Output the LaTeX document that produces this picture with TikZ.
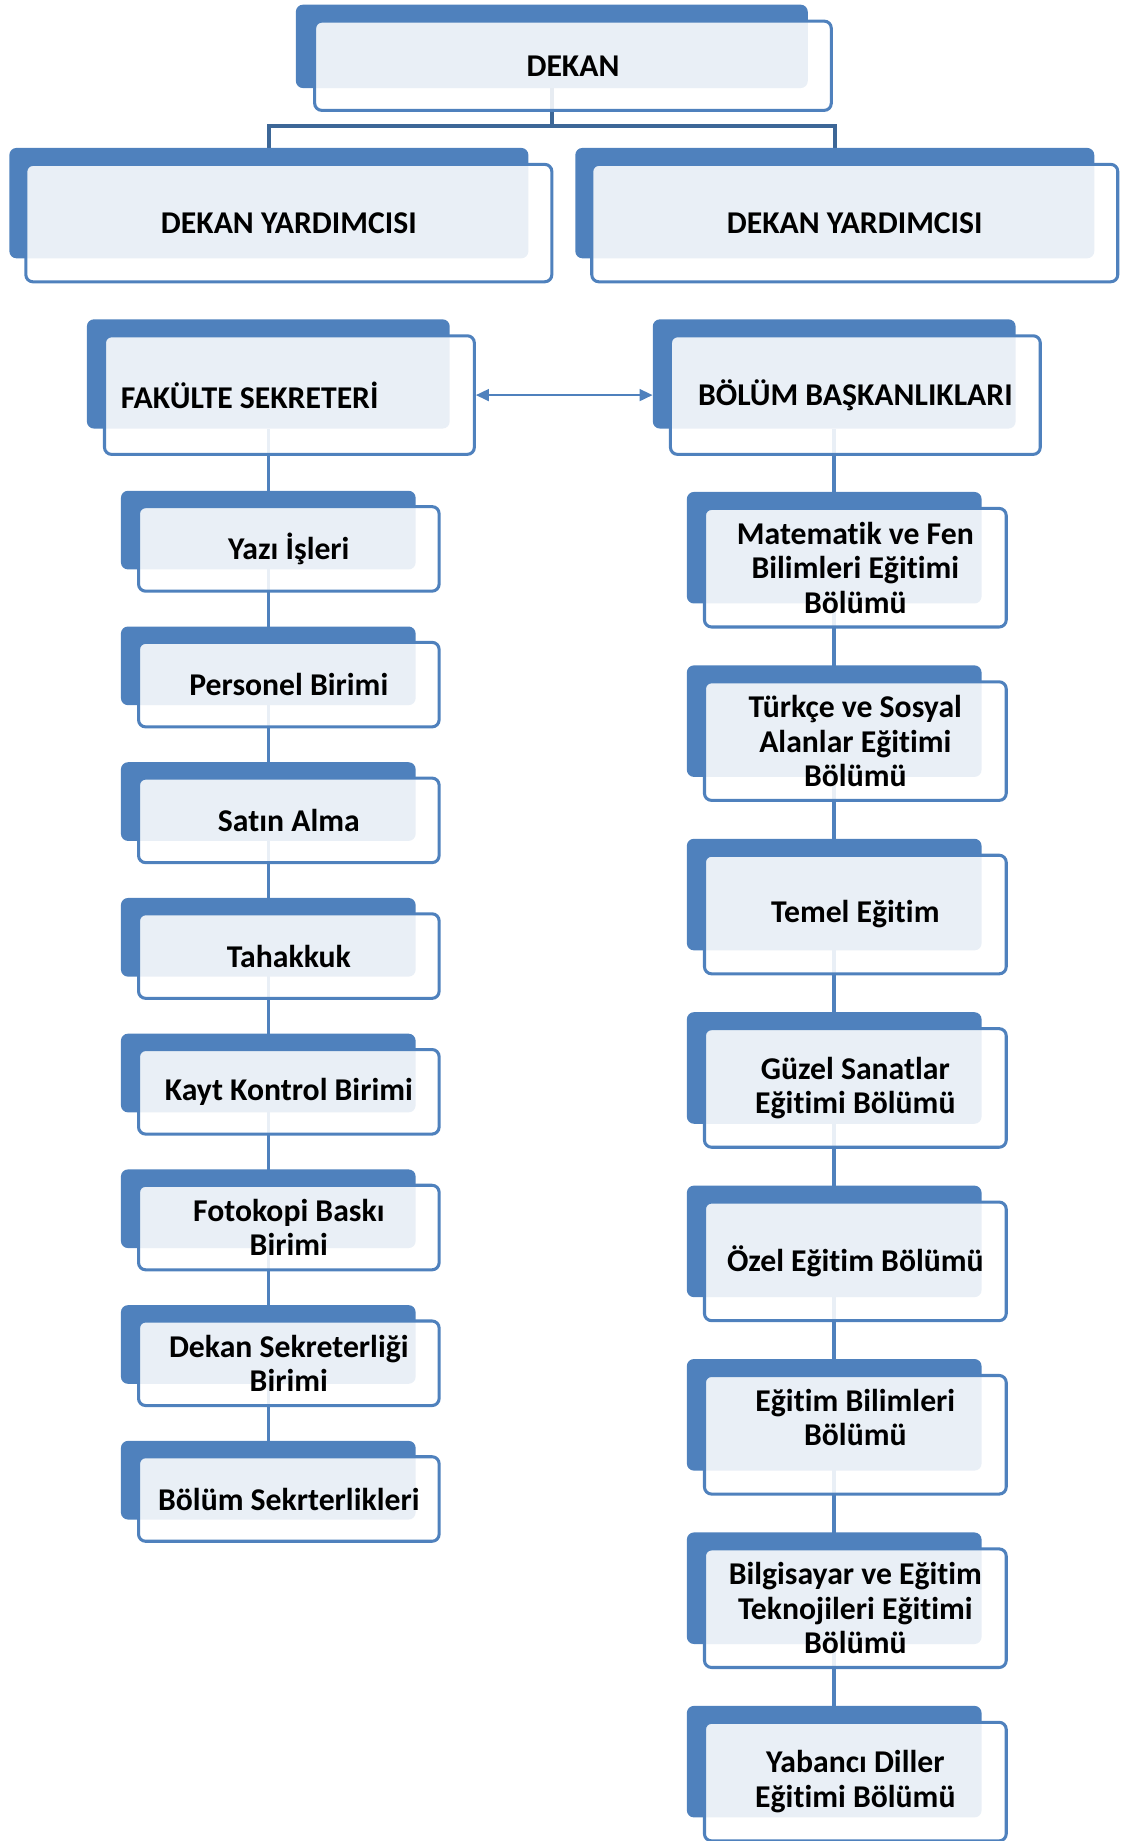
\documentclass[tikz,border=0pt]{standalone}
\usepackage{fontspec}
\setmainfont{Carlito}[RawFeature={-liga;-clig;-dlig}]
\usetikzlibrary{calc,backgrounds,arrows.meta}
\definecolor{boxblue}{RGB}{79,129,189}
\definecolor{barblue}{RGB}{61,103,151}

\begin{document}
\begin{tikzpicture}[x=1pt,y=-1pt,
  backbox/.style n args={2}{rectangle,fill=boxblue,rounded corners=6pt,inner sep=0pt,minimum width=#1pt,minimum height=#2pt},
  frontbox/.style n args={2}{rectangle,draw=boxblue,line width=2.6pt,fill=white,fill opacity=0.88,text opacity=1,rounded corners=6pt,inner sep=0pt,minimum width=#1pt,minimum height=#2pt,align=center,font=\bfseries\fontsize{27}{29.5}\selectfont},
  lnk/.style={draw=boxblue,line width=3pt},
  barlnk/.style={draw=barblue,line width=3.2pt},
  biarrow/.style={draw=boxblue,line width=1.8pt,{Triangle[length=11pt,width=10pt]}-{Triangle[length=11pt,width=10pt]}}]
\useasboundingbox (0,0) rectangle (956,1568);

\node[backbox={436}{71}] (dekan) at (470,39.5) {};
\node[frontbox={440}{76}] (dekant) at ($(dekan)+(18,16.5)$) {DEKAN};

\node[backbox={442}{94}] (dyl) at (229,173) {};
\node[frontbox={448}{100}] (dylt) at ($(dyl)+(17,17)$) {DEKAN YARDIMCISI};
\node[backbox={442}{94}] (dyr) at (711,173) {};
\node[frontbox={448}{100}] (dyrt) at ($(dyr)+(17,17)$) {DEKAN YARDIMCISI};

\node[backbox={309}{93}] (fs) at (228.5,318.5) {};
\node[frontbox={315}{101}] (fst) at ($(fs)+(18,18)$) {\makebox[287pt][l]{FAKÜLTE SEKRETERİ}};
\node[backbox={309}{93}] (bb) at (710.5,318.5) {};
\node[frontbox={315}{101}] (bbt) at ($(bb)+(18,18)$) {BÖLÜM BAŞKANLIKLARI};

\foreach \t [count=\i] in {{Yazı İşleri},{Personel Birimi},{Satın Alma},{Tahakkuk},%
  {Kayt Kontrol Birimi},{Fotokopi Baskı\\Birimi},{Dekan Sekreterliği\\Birimi},{Bölüm Sekrterlikleri}} {
  \node[backbox={251}{67}] (l\i) at (228.5,451.5+115.6*\i-115.6) {};
  \node[frontbox={256}{72}] (lt\i) at ($(l\i)+(17.5,16)$) {\t};
}

\foreach \t [count=\i] in {{Matematik ve Fen\\Bilimleri Eğitimi\\Bölümü},{Türkçe ve Sosyal\\Alanlar Eğitimi\\Bölümü},%
  {Temel Eğitim},{Güzel Sanatlar\\Eğitimi Bölümü},{Özel Eğitim Bölümü},{Eğitim Bilimleri\\Bölümü\\~},%
  {Bilgisayar ve Eğitim\\Teknojileri Eğitimi\\Bölümü},{Yabancı Diller\\Eğitimi Bölümü}} {
  \node[backbox={251}{95}] (r\i) at (710.5,466.5+147.7*\i-147.7) {};
  \node[frontbox={257}{101}] (rt\i) at ($(r\i)+(18,17)$) {\t};
}

\coordinate (split) at ($(dekan)+(0,67.5)$);
\begin{pgfonlayer}{background}
\draw[barlnk] (dekan) -- (split);
\draw[barlnk] (dyl) |- (split) -| (dyr);
\draw[lnk] (fs) -- (l8);
\draw[lnk] (bb) -- (r8);
\end{pgfonlayer}
\draw[biarrow] (fst.east) -- (fst.east -| bb.west);
\end{tikzpicture}
\end{document}
